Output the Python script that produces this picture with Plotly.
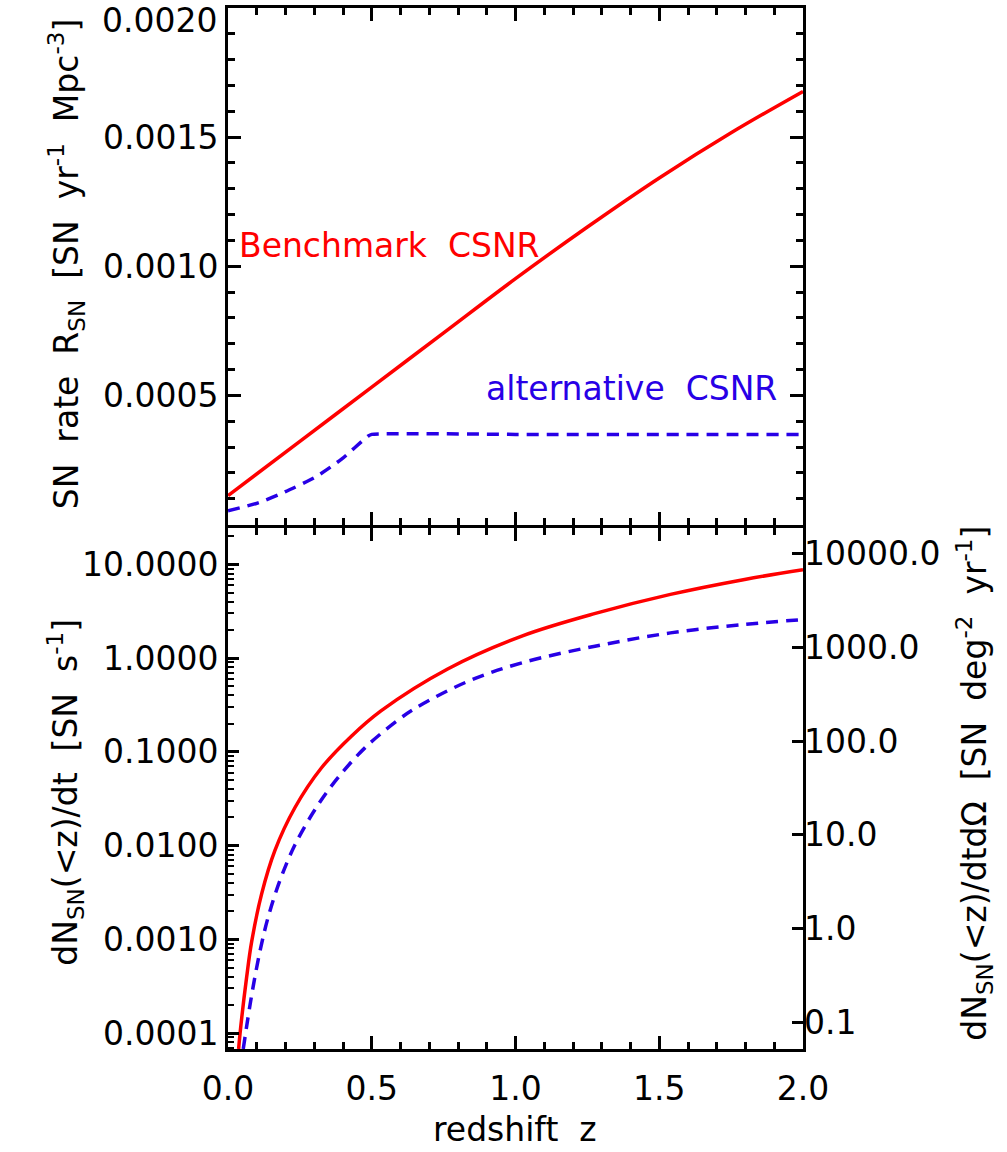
import plotly.graph_objects as go

# ---------------- data ----------------
# top panel: SN rate R_SN [SN yr^-1 Mpc^-3]
z_rate_bench = [0.0, 0.25, 0.5, 0.75, 1.0, 1.25, 1.5, 1.75, 2.0]
rate_bench = [1.12e-4, 3.22e-4, 5.32e-4, 7.42e-4, 9.52e-4, 1.152e-3, 1.342e-3, 1.517e-3, 1.677e-3]

z_rate_alt = [0.0, 0.105, 0.198, 0.303, 0.395, 0.488, 0.5, 1.0, 1.5, 2.0]
rate_alt = [5.3e-5, 8.4e-5, 1.26e-4, 1.83e-4, 2.53e-4, 3.43e-4, 3.49e-4, 3.49e-4, 3.49e-4, 3.49e-4]

# bottom panel: cumulative dN_SN(<z)/dt [SN s^-1]
z_cum_bench = [0.037, 0.042, 0.065, 0.082, 0.117, 0.163, 0.233, 0.326, 0.43, 0.532,
               0.764, 1.022, 1.281, 1.539, 1.797, 2.0]
cum_bench = [6.76e-5, 1.0e-4, 3.98e-4, 9.33e-4, 3.06e-3, 8.85e-3, 0.0255, 0.0681, 0.148, 0.274,
             0.767, 1.72, 3.02, 4.79, 6.92, 8.79]

z_cum_alt = [0.053, 0.082, 0.111, 0.140, 0.181, 0.233, 0.308, 0.384, 0.477, 0.592,
             0.654, 0.829, 1.022, 1.281, 1.539, 1.797, 2.0]
cum_alt = [6.76e-5, 2.51e-4, 7.41e-4, 1.74e-3, 4.27e-3, 0.0102, 0.0257, 0.0537, 0.111, 0.219,
           0.295, 0.556, 0.891, 1.35, 1.86, 2.29, 2.58]

# tick labels
x_ticks = [0.0, 0.5, 1.0, 1.5, 2.0]
x_ticktext = ["0.0", "0.5", "1.0", "1.5", "2.0"]
rate_ticks = [0.0005, 0.0010, 0.0015, 0.0020]
rate_ticktext = ["0.0005", "0.0010", "0.0015", ""]
rate_top_label = "0.0020"
cum_ticks = [1e-4, 1e-3, 1e-2, 1e-1, 1.0, 10.0]
cum_ticktext = ["0.0001", "0.0010", "0.0100", "0.1000", "1.0000", "10.0000"]
sky_ticks = [0.1, 1.0, 10.0, 100.0, 1000.0, 10000.0]
sky_ticktext = ["0.1", "1.0", "10.0", "100.0", "1000.0", "10000.0"]

RED = "#ff0000"
BLUE = "#2800e6"
FONT = "DejaVu Sans"
FS = 33

fig = go.Figure()
fig.add_trace(go.Scatter(x=z_rate_bench, y=rate_bench, mode="lines",
                         line=dict(color=RED, width=3.5, shape="spline", smoothing=1.0),
                         xaxis="x", yaxis="y", showlegend=False, hoverinfo="skip"))
fig.add_trace(go.Scatter(x=z_rate_alt, y=rate_alt, mode="lines",
                         line=dict(color=BLUE, width=3.5, dash="12px,8px", shape="spline", smoothing=0.6),
                         xaxis="x", yaxis="y", showlegend=False, hoverinfo="skip"))
fig.add_trace(go.Scatter(x=z_cum_bench, y=cum_bench, mode="lines",
                         line=dict(color=RED, width=3.5, shape="spline", smoothing=1.0),
                         xaxis="x2", yaxis="y2", showlegend=False, hoverinfo="skip"))
fig.add_trace(go.Scatter(x=z_cum_alt, y=cum_alt, mode="lines",
                         line=dict(color=BLUE, width=3.5, dash="12px,8px", shape="spline", smoothing=1.0),
                         xaxis="x2", yaxis="y2", showlegend=False, hoverinfo="skip"))
# invisible carrier so the right-hand axis (SN deg^-2 yr^-1) is drawn
fig.add_trace(go.Scatter(x=z_cum_bench, y=cum_bench, mode="lines", opacity=0,
                         line=dict(width=0), xaxis="x2", yaxis="y3", showlegend=False, hoverinfo="skip"))

ph = 1044.0
pw = 575.0
split = 523 / ph
LW = 3

common_x = dict(range=[0, 2], showline=True, linecolor="black", linewidth=LW, mirror="ticks",
                ticks="inside", ticklen=13, tickwidth=LW, tickcolor="black",
                tickvals=x_ticks, ticktext=x_ticktext, showgrid=False, zeroline=False,
                minor=dict(ticks="inside", ticklen=7, tickwidth=LW, tickcolor="black", dtick=0.1, tick0=0,
                           showgrid=False),
                tickfont=dict(family=FONT, size=FS, color="black"))

minor_log = [m * 10.0 ** e for e in range(-5, 2) for m in range(2, 10)]

log_lo = -4.17
log_hi = 1.394
sky_shift = 2.884  # offset of the right-hand axis

fig.update_layout(
    width=1007, height=1152,
    margin=dict(l=228, r=204, t=5, b=103),
    paper_bgcolor="white", plot_bgcolor="white",
    font=dict(family=FONT, size=FS, color="black"),
    xaxis=dict(common_x, anchor="y", showticklabels=False),
    xaxis2=dict(common_x, anchor="y2", matches="x", ticklabelstandoff=8),
    yaxis=dict(domain=[split + 3 / ph, 1], anchor="x", range=[0, 0.002], showline=True, linecolor="black",
               linewidth=LW, mirror="ticks", ticks="inside", ticklen=13, tickwidth=LW, tickcolor="black",
               tickvals=rate_ticks, ticktext=rate_ticktext, showgrid=False, zeroline=False,
               minor=dict(ticks="inside", ticklen=7, tickwidth=LW, tickcolor="black", dtick=0.0001, tick0=0,
                          showgrid=False),
               tickfont=dict(family=FONT, size=FS, color="black")),
    yaxis2=dict(domain=[0, split], anchor="x2", type="log", range=[log_lo, log_hi], showline=True,
                linecolor="black", linewidth=LW, mirror=True, ticks="inside", ticklen=11, tickwidth=LW,
                tickcolor="black", tickvals=cum_ticks, ticktext=cum_ticktext, showgrid=False, zeroline=False,
                minor=dict(ticks="inside", ticklen=6, tickwidth=2, tickcolor="black", tickmode="array",
                           tickvals=minor_log, showgrid=False),
                tickfont=dict(family=FONT, size=FS, color="black")),
    yaxis3=dict(overlaying="y2", anchor="x2", side="right", type="log",
                range=[log_lo + sky_shift, log_hi + sky_shift],
                showline=False, ticks="inside", ticklen=11, tickwidth=LW, tickcolor="black",
                tickvals=sky_ticks, ticktext=sky_ticktext, showgrid=False, zeroline=False,
                tickfont=dict(family=FONT, size=FS, color="black")),
)


def px_x(px):
    return (px - 228) / pw


def px_y(py):
    return (1049 - py) / ph


annotations = [
    dict(text="SN\u00a0\u00a0rate\u00a0\u00a0R<sub>SN</sub>\u00a0\u00a0[SN\u00a0\u00a0yr<sup>-1</sup>\u00a0\u00a0Mpc<sup>-3</sup>]",
         x=px_x(66), y=px_y(262), textangle=-90, xanchor="center", yanchor="middle"),
    dict(text="dN<sub>SN</sub>(&lt;z)/dt\u00a0\u00a0[SN\u00a0\u00a0s<sup>-1</sup>]",
         x=px_x(66), y=px_y(792), textangle=-90, xanchor="center", yanchor="middle"),
    dict(text="dN<sub>SN</sub>(&lt;z)/dtd\u03a9\u00a0\u00a0[SN\u00a0\u00a0deg<sup>-2</sup>\u00a0\u00a0yr<sup>-1</sup>]",
         x=px_x(975), y=px_y(783), textangle=-90, xanchor="center", yanchor="middle"),
    dict(text="redshift\u00a0\u00a0z", x=px_x(515), y=px_y(1130), textangle=0, xanchor="center", yanchor="middle"),
    dict(text=rate_top_label, x=px_x(219), y=px_y(18), textangle=0, xanchor="right", yanchor="middle"),
]
for a in annotations:
    a.update(xref="paper", yref="paper", showarrow=False,
             font=dict(family=FONT, size=FS, color="black"))
    fig.add_annotation(**a)

fig.add_annotation(text="Benchmark\u00a0\u00a0CSNR", xref="x", yref="y", x=0.03, y=0.00108, xanchor="left",
                   yanchor="middle", showarrow=False, font=dict(family=FONT, size=FS, color=RED))
fig.add_annotation(text="alternative\u00a0\u00a0CSNR", xref="x", yref="y", x=0.89, y=0.000528, xanchor="left",
                   yanchor="middle", showarrow=False, font=dict(family=FONT, size=FS, color=BLUE))

fig.write_html("out.html")
